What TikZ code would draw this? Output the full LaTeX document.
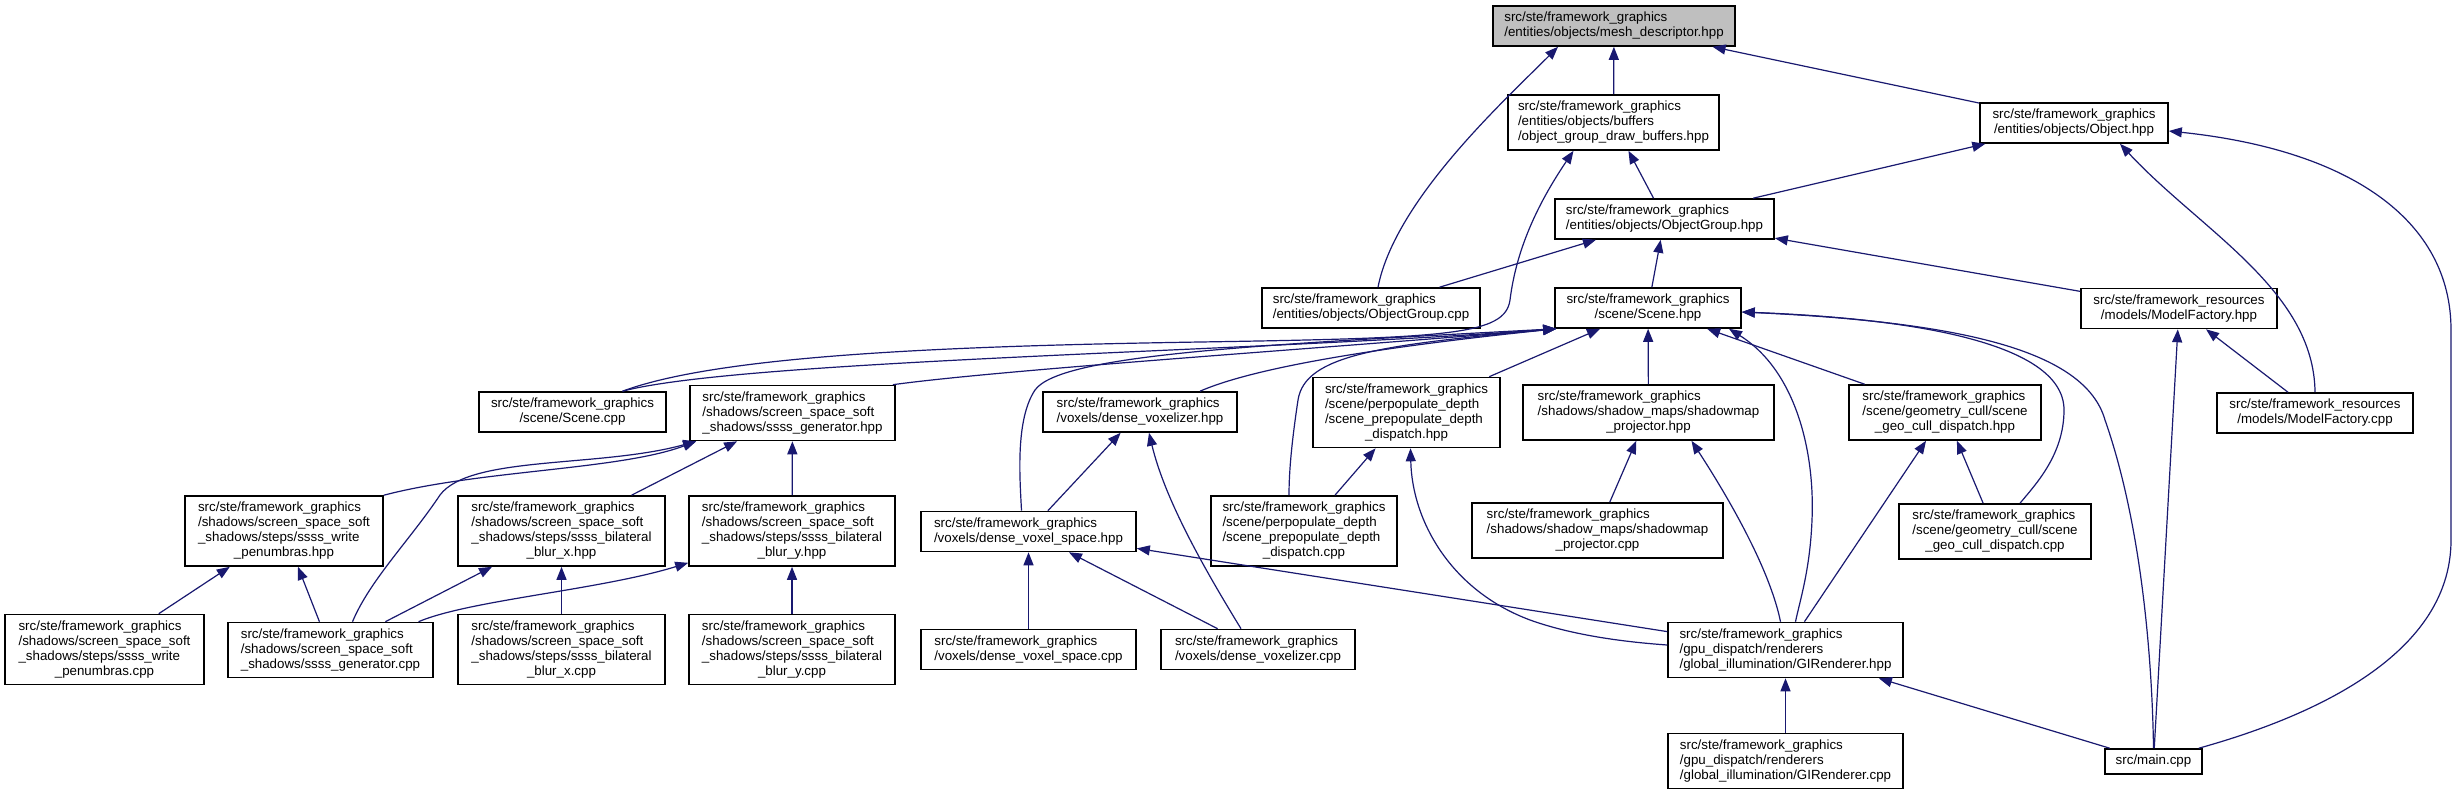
\documentclass[tikz,border=0pt]{standalone}
\usepackage{fontspec}
\setmainfont{Liberation Sans}
\usetikzlibrary{arrows.meta,calc}
\definecolor{edgeblue}{HTML}{191970}
\definecolor{meshgray}{HTML}{BFBFBF}
\newcommand{\lfont}{\fontsize{13.33}{15}\selectfont}
\newcommand{\nlab}[2]{\begin{tabular}{@{}l@{}}#1\multicolumn{1}{@{}c@{}}{#2}\end{tabular}}
\tikzset{
  box/.style={draw=black, line width=1.6pt, fill=white, inner sep=0pt, font=\lfont},
  dep/.style={draw=edgeblue, line width=1.2pt, {Triangle[length=13pt,width=10pt]}-},
}
\begin{document}
\begin{tikzpicture}[x=1pt,y=-1pt]
\useasboundingbox[fill=white] (0,0) rectangle (2457,795);
% row 0-3
\node[box,fill=meshgray,minimum width=242,minimum height=40] (mesh) at (1614,26) {\nlab{src/ste/framework\_graphics\\}{/entities/objects/mesh\_descriptor.hpp}};
\node[box,minimum width=211,minimum height=55] (ogdb) at (1613.5,122.5) {\nlab{src/ste/framework\_graphics\\/entities/objects/buffers\\}{/object\_group\_draw\_buffers.hpp}};
\node[box,minimum width=188,minimum height=40] (objh) at (2074,123) {\nlab{src/ste/framework\_graphics\\}{/entities/objects/Object.hpp}};
\node[box,minimum width=219,minimum height=40] (ogh) at (1664.5,219) {\nlab{src/ste/framework\_graphics\\}{/entities/objects/ObjectGroup.hpp}};
\node[box,minimum width=218,minimum height=40] (ogc) at (1371,308) {\nlab{src/ste/framework\_graphics\\}{/entities/objects/ObjectGroup.cpp}};
\node[box,minimum width=186,minimum height=40] (sceneh) at (1648,308) {\nlab{src/ste/framework\_graphics\\}{/scene/Scene.hpp}};
\node[box,minimum width=196,minimum height=40] (mfh) at (2179,308.5) {\nlab{src/ste/framework\_resources\\}{/models/ModelFactory.hpp}};
% row 4
\node[box,minimum width=187,minimum height=40] (scenec) at (572.5,412) {\nlab{src/ste/framework\_graphics\\}{/scene/Scene.cpp}};
\node[box,minimum width=205,minimum height=55] (sgh) at (792.5,413) {\nlab{src/ste/framework\_graphics\\/shadows/screen\_space\_soft\\}{\_shadows/ssss\_generator.hpp}};
\node[box,minimum width=194,minimum height=40] (dvzh) at (1140,412) {\nlab{src/ste/framework\_graphics\\}{/voxels/dense\_voxelizer.hpp}};
\node[box,minimum width=187,minimum height=70] (ppdh) at (1406.5,412.5) {\nlab{src/ste/framework\_graphics\\/scene/perpopulate\_depth\\/scene\_prepopulate\_depth\\}{\_dispatch.hpp}};
\node[box,minimum width=251,minimum height=55] (smph) at (1648.5,412.5) {\nlab{src/ste/framework\_graphics\\/shadows/shadow\_maps/shadowmap\\}{\_projector.hpp}};
\node[box,minimum width=192,minimum height=55] (gcdh) at (1945,412.5) {\nlab{src/ste/framework\_graphics\\/scene/geometry\_cull/scene\\}{\_geo\_cull\_dispatch.hpp}};
\node[box,minimum width=196,minimum height=40] (mfc) at (2315,413) {\nlab{src/ste/framework\_resources\\}{/models/ModelFactory.cpp}};
% row 5
\node[box,minimum width=198,minimum height=70] (wph) at (284,531) {\nlab{src/ste/framework\_graphics\\/shadows/screen\_space\_soft\\\_shadows/steps/ssss\_write\\}{\_penumbras.hpp}};
\node[box,minimum width=207,minimum height=70] (bxh) at (561.5,531) {\nlab{src/ste/framework\_graphics\\/shadows/screen\_space\_soft\\\_shadows/steps/ssss\_bilateral\\}{\_blur\_x.hpp}};
\node[box,minimum width=206,minimum height=70] (byh) at (792,531) {\nlab{src/ste/framework\_graphics\\/shadows/screen\_space\_soft\\\_shadows/steps/ssss\_bilateral\\}{\_blur\_y.hpp}};
\node[box,minimum width=215,minimum height=40] (dvsh) at (1028.5,531.5) {\nlab{src/ste/framework\_graphics\\}{/voxels/dense\_voxel\_space.hpp}};
\node[box,minimum width=186,minimum height=70] (ppdc) at (1304,531) {\nlab{src/ste/framework\_graphics\\/scene/perpopulate\_depth\\/scene\_prepopulate\_depth\\}{\_dispatch.cpp}};
\node[box,minimum width=251,minimum height=55] (smpc) at (1597.5,530.5) {\nlab{src/ste/framework\_graphics\\/shadows/shadow\_maps/shadowmap\\}{\_projector.cpp}};
\node[box,minimum width=192,minimum height=55] (gcdc) at (1995,531.5) {\nlab{src/ste/framework\_graphics\\/scene/geometry\_cull/scene\\}{\_geo\_cull\_dispatch.cpp}};
% row 6
\node[box,minimum width=199,minimum height=70] (wpc) at (104.5,649.5) {\nlab{src/ste/framework\_graphics\\/shadows/screen\_space\_soft\\\_shadows/steps/ssss\_write\\}{\_penumbras.cpp}};
\node[box,minimum width=205,minimum height=55] (sgc) at (330.5,650) {\nlab{src/ste/framework\_graphics\\/shadows/screen\_space\_soft\\}{\_shadows/ssss\_generator.cpp}};
\node[box,minimum width=207,minimum height=70] (bxc) at (561.5,649.5) {\nlab{src/ste/framework\_graphics\\/shadows/screen\_space\_soft\\\_shadows/steps/ssss\_bilateral\\}{\_blur\_x.cpp}};
\node[box,minimum width=206,minimum height=70] (byc) at (792,649.5) {\nlab{src/ste/framework\_graphics\\/shadows/screen\_space\_soft\\\_shadows/steps/ssss\_bilateral\\}{\_blur\_y.cpp}};
\node[box,minimum width=215,minimum height=40] (dvsc) at (1028.5,649.5) {\nlab{src/ste/framework\_graphics\\}{/voxels/dense\_voxel\_space.cpp}};
\node[box,minimum width=194,minimum height=40] (dvzc) at (1258,649.5) {\nlab{src/ste/framework\_graphics\\}{/voxels/dense\_voxelizer.cpp}};
\node[box,minimum width=235,minimum height=55] (girh) at (1785.5,650) {\nlab{src/ste/framework\_graphics\\/gpu\_dispatch/renderers\\}{/global\_illumination/GIRenderer.hpp}};
% row 7
\node[box,minimum width=235,minimum height=55] (girc) at (1785.5,761) {\nlab{src/ste/framework\_graphics\\/gpu\_dispatch/renderers\\}{/global\_illumination/GIRenderer.cpp}};
\node[box,minimum width=97,minimum height=25] (mainc) at (2153.5,761.5) {src/main.cpp};

% straight connectors
\draw[dep] (mesh) -- (ogdb);
\draw[dep] (mesh) -- (objh);
\draw[dep] (ogdb) -- (ogh);
\draw[dep] (objh) -- (ogh);
\draw[dep] (ogh) -- (ogc);
\draw[dep] (ogh) -- (sceneh);
\draw[dep] (ogh) -- (mfh);
\draw[dep] (mfh) -- (mfc);
\draw[dep] (mfh) -- (mainc);
\draw[dep] (girh) -- (mainc);
\draw[dep] (girh) -- (girc);
\draw[dep] (gcdh) -- (gcdc);
\draw[dep] (gcdh) -- (girh);
\draw[dep] (smph) -- (smpc);
\draw[dep] (ppdh) -- (ppdc);
\draw[dep] (sceneh) -- (ppdh);
\draw[dep] (sceneh) -- (smph);
\draw[dep] (sceneh) -- (gcdh);
\draw[dep] (dvzh) -- (dvsh);
\draw[dep] (dvsh) -- (dvsc);
\draw[dep] (dvsh) -- (dvzc);
\draw[dep] (dvsh) -- (girh);
\draw[dep] (wph) -- (sgc);
\draw[dep] (wph) -- (wpc);
\draw[dep] (bxh) -- (sgc);
\draw[dep] (bxh) -- (bxc);
\draw[dep] (byh) -- (byc);
\draw[dep] (sgh) -- (byh);
\draw[dep] (sgh) -- (bxh);

% curved connectors
\draw[dep] ($(mesh.south)+(-56,0)$) .. controls (1505,100) and (1395,200) .. ($(ogc.north)+(7,0)$);
\draw[dep] ($(ogdb.south)+(-40,0)$) .. controls (1530,215) and (1515,260) .. (1510,300)
  .. controls (1505,335) and (1450,338) .. (1200,342)
  .. controls (950,346) and (720,355) .. ($(scenec.north)+(50,0)$);
\draw[dep] ($(sceneh.south west)+(2,0)$) .. controls (1250,352) and (740,360) .. ($(scenec.north)+(50,0)$);
\draw[dep] ($(sceneh.south west)+(2,0)$) .. controls (1300,350) and (1000,370) .. ($(sgh.north east)+(-3,0)$);
\draw[dep] ($(sceneh.south west)+(2,0)$) .. controls (1250,345) and (1060,355) .. (1035,390)
  .. controls (1015,420) and (1020,480) .. ($(dvsh.north)+(-7,0)$);
\draw[dep] ($(sceneh.south west)+(2,0)$) .. controls (1400,345) and (1260,365) .. ($(dvzh.north)+(60,0)$);
\draw[dep] ($(sceneh.south west)+(2,0)$) .. controls (1380,345) and (1305,355) .. (1298,400)
  .. controls (1292,440) and (1289,470) .. ($(ppdc.north)+(-15,0)$);
\draw[dep] ($(sceneh.south)+(81,0)$) .. controls (1795,370) and (1815,450) .. (1812,520)
  .. controls (1810,570) and (1800,600) .. ($(girh.north)+(10,0)$);
\draw[dep] ($(sceneh.east)+(0,4)$) .. controls (1900,318) and (2064,340) .. (2064,410)
  .. controls (2064,455) and (2035,485) .. ($(gcdc.north)+(25,0)$);
\draw[dep] ($(sceneh.east)+(0,4)$) .. controls (1960,322) and (2085,350) .. (2105,420)
  .. controls (2140,520) and (2152,650) .. (mainc.north);
\draw[dep] ($(ppdh.south)+(4,0)$) .. controls (1412,520) and (1450,590) .. (1530,620)
  .. controls (1580,638) and (1640,643) .. ($(girh.west)+(0,-5)$);
\draw[dep] ($(smph.south)+(43,0)$) .. controls (1730,500) and (1770,570) .. ($(girh.north)+(-5,0)$);
\draw[dep] ($(dvzh.south)+(9,0)$) .. controls (1165,500) and (1205,570) .. ($(dvzc.north)+(-17,0)$);
\draw[dep] ($(byh.south west)+(0,-4)$) .. controls (600,590) and (470,600) .. ($(sgc.north)+(88,0)$);
\draw[dep] ($(sgh.south west)+(7,0)$) .. controls (620,470) and (480,470) .. (wph.north east);
\draw[dep] ($(sgh.south west)+(7,0)$) .. controls (600,468) and (470,455) .. (440,495)
  .. controls (410,540) and (370,580) .. ($(sgc.north)+(22,0)$);
\draw[dep] ($(objh.south)+(46,0)$) .. controls (2200,230) and (2314,290) .. (mfc.north);
\draw[dep] ($(objh.east)+(0,8)$) .. controls (2350,150) and (2451,220) .. (2451,330)
  -- (2451,540) .. controls (2451,660) and (2300,720) .. ($(mainc.north east)+(-4,0)$);
\end{tikzpicture}
\end{document}
